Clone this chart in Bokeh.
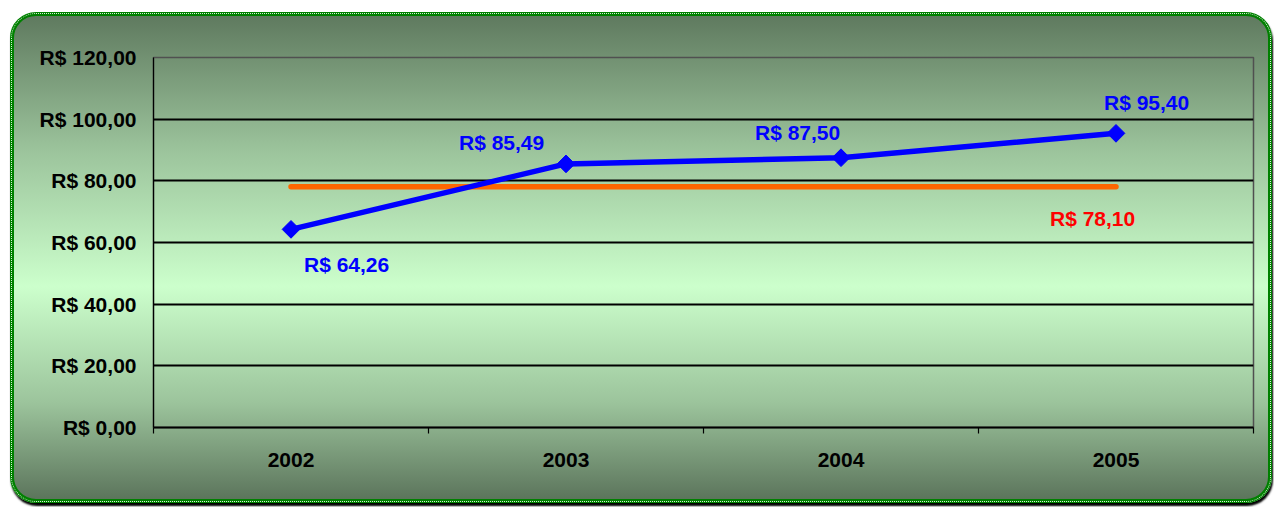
import math

from bokeh.core.properties import value
from bokeh.embed import file_html
from bokeh.models import ColumnDataSource, FixedTicker, Range1d
from bokeh.plotting import figure
from bokeh.resources import INLINE

# --- data -------------------------------------------------------------
years = ["2002", "2003", "2004", "2005"]
prices = [64.26, 85.49, 87.50, 95.40]
target = 78.10
y_ticks = [0, 20, 40, 60, 80, 100, 120]

# --- label placement (screen pixels, relative to each point) ----------
label_dx = [13, -107, -86, -12]
label_dy = [35, -21, -25, -31]
target_dx = -66
target_dy = 32

FONT = "Liberation Sans"


def brl(v):
    return "R$ " + f"{v:.2f}".replace(".", ",")


xs = [i + 0.5 for i in range(len(years))]

p = figure(
    width=1262,
    height=491,
    x_range=Range1d(0, len(years)),
    y_range=Range1d(0, 120),
    output_backend="svg",
    toolbar_location=None,
    min_border_left=139,
    min_border_right=23,
    min_border_top=41,
    min_border_bottom=80,
)
p.background_fill_alpha = 0
p.border_fill_alpha = 0
p.outline_line_color = "#505050"
p.outline_line_width = 1.5

p.styles = {
    "margin": "12px 0 0 10px",
    "background": "linear-gradient(to bottom, #5f7a5f 0%, #9cc49c 28%, #ccffcc 56%, #9cc49c 80%, #5c755c 100%)",
    "border": "4px solid #008000",
    "border-radius": "26px",
    "outline": "1px dotted #d8f0d8",
    "outline-offset": "-2.5px",
    "box-shadow": "1px 3px 2px #000000",
}

# y axis
p.yaxis.ticker = FixedTicker(ticks=y_ticks)
p.yaxis.major_label_overrides = {t: brl(t) for t in y_ticks}
p.yaxis.major_tick_out = 0
p.yaxis.major_tick_in = 0
p.yaxis.minor_tick_out = 0
p.yaxis.minor_tick_in = 0
p.yaxis.major_label_standoff = 17
p.yaxis.axis_line_color = "black"
p.yaxis.axis_line_width = 1.2
p.yaxis.major_label_text_font = FONT
p.yaxis.major_label_text_font_style = "bold"
p.yaxis.major_label_text_font_size = "21px"
p.yaxis.major_label_text_color = "black"

# x axis: labels centred on each year, tick marks on the boundaries
p.xaxis.ticker = FixedTicker(ticks=xs, minor_ticks=list(range(len(years) + 1)))
p.xaxis.major_label_overrides = {x: y for x, y in zip(xs, years)}
p.xaxis.major_tick_out = 0
p.xaxis.major_tick_in = 0
p.xaxis.minor_tick_out = 6
p.xaxis.minor_tick_in = 0
p.xaxis.minor_tick_line_color = "black"
p.xaxis.minor_tick_line_width = 1.2
p.xaxis.major_label_standoff = 19
p.xaxis.axis_line_color = "black"
p.xaxis.axis_line_width = 1.8
p.xaxis.major_label_text_font = FONT
p.xaxis.major_label_text_font_style = "bold"
p.xaxis.major_label_text_font_size = "21px"
p.xaxis.major_label_text_color = "black"

p.xgrid.grid_line_color = None
p.ygrid.grid_line_color = "black"
p.ygrid.grid_line_width = 1.8

# reference line
p.line([xs[0], xs[-1]], [target, target], line_color="#ff6600",
       line_width=5.5, line_cap="round")

# price series
src = ColumnDataSource(dict(
    x=xs, y=prices, label=[brl(v) for v in prices],
    dx=label_dx, dy=label_dy,
))
p.line("x", "y", source=src, line_color="#0000ff", line_width=5.5)
p.scatter("x", "y", source=src, marker="square", angle=math.pi / 4,
          size=12.5, fill_color="#0000ff", line_color="#0000ff")
p.text("x", "y", text="label", source=src, x_offset="dx", y_offset="dy",
       text_font=value(FONT), text_font_style="bold",
       text_font_size="21px", text_color="#0000ff",
       text_align="left", text_baseline="middle")

p.text([xs[-1]], [target], text=[brl(target)], x_offset=target_dx,
       y_offset=target_dy, text_font=value(FONT), text_font_style="bold",
       text_font_size="21px", text_color="#ff0000",
       text_align="left", text_baseline="middle")

open("out.html", "w").write(file_html(p, INLINE))
